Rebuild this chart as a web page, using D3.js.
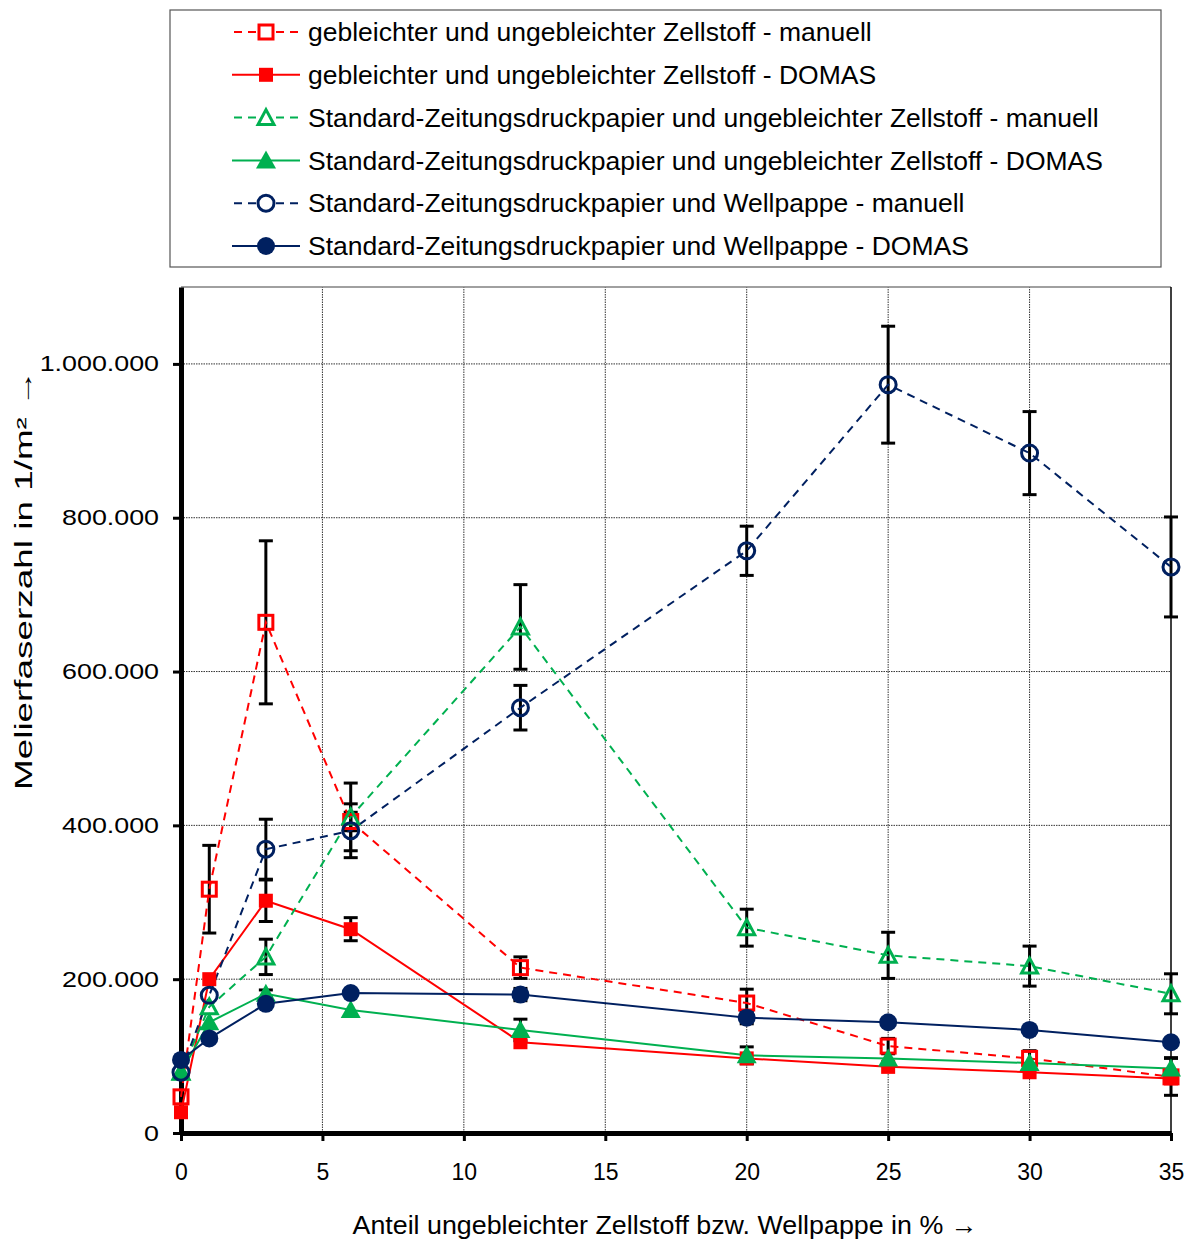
<!DOCTYPE html>
<html>
<head>
<meta charset="utf-8">
<script src="https://cdn.jsdelivr.net/npm/d3@7"></script>
<style>
  body { margin: 0; background: #fff; }
  text { font-family: Arial, "Liberation Sans", sans-serif; }
</style>
</head>
<body>
<div id="chart"></div>
<script>
const width = 1193, height = 1239;

// x positions (% share)
const xVals = [0, 1, 3, 6, 12, 20, 25, 30, 35];
const xTicks = [0, 5, 10, 15, 20, 25, 30, 35];
const yTicks = [0, 200000, 400000, 600000, 800000, 1000000];

// values
const redManual     = [47000, 317000, 664000, 405000, 215000, 169000, 113000, 97000, 73000];
const redManualErr  = [0, 57000, 106000, 12000, 14000, 18000, 10000, 10000, 24000];
const redDomas      = [27000, 200000, 302000, 265000, 118000, 97000, 86000, 79000, 71000];
const redDomasErr   = [0, 0, 27000, 15000, 0, 0, 0, 0, 0];
const greenManual    = [79000, 164000, 229000, 411000, 658000, 267000, 231000, 217000, 181000];
const greenManualErr = [0, 0, 23000, 44000, 55000, 24000, 30000, 26000, 26000];
const greenDomas     = [79000, 144000, 181000, 160000, 134000, 101000, 97000, 91000, 84000];
const greenDomasErr  = [0, 0, 5000, 0, 14000, 11000, 0, 0, 14000];
const blueManual     = [79000, 179000, 369000, 393000, 553000, 757000, 973000, 884000, 736000];
const blueManualErr  = [0, 0, 39000, 35000, 29000, 32000, 76000, 54000, 65000];
const blueDomas      = [95000, 123000, 168000, 182000, 180000, 150000, 144000, 134000, 118000];
const blueDomasErr   = [0, 0, 0, 0, 8000, 8000, 0, 0, 0];

const names = [
  "gebleichter und ungebleichter Zellstoff - manuell",
  "gebleichter und ungebleichter Zellstoff - DOMAS",
  "Standard-Zeitungsdruckpapier und ungebleichter Zellstoff - manuell",
  "Standard-Zeitungsdruckpapier und ungebleichter Zellstoff - DOMAS",
  "Standard-Zeitungsdruckpapier und Wellpappe - manuell",
  "Standard-Zeitungsdruckpapier und Wellpappe - DOMAS"
];

const series = [
  { name: names[0], values: redManual,   err: redManualErr,   color: "#ff0000", dashed: true,  shape: "square",   open: true },
  { name: names[1], values: redDomas,    err: redDomasErr,    color: "#ff0000", dashed: false, shape: "square",   open: false },
  { name: names[2], values: greenManual, err: greenManualErr, color: "#00b050", dashed: true,  shape: "triangle", open: true },
  { name: names[3], values: greenDomas,  err: greenDomasErr,  color: "#00b050", dashed: false, shape: "triangle", open: false },
  { name: names[4], values: blueManual,  err: blueManualErr,  color: "#002060", dashed: true,  shape: "circle",   open: true },
  { name: names[5], values: blueDomas,   err: blueDomasErr,   color: "#002060", dashed: false, shape: "circle",   open: false }
];

const svg = d3.select("#chart").append("svg")
    .attr("width", width)
    .attr("height", height);

const x = d3.scaleLinear().domain([0, 35]).range([181, 1171]);
const y = d3.scaleLinear().domain([0, 1100000]).range([1133, 287]);

const de = d3.formatLocale({ decimal: ",", thousands: ".", grouping: [3], currency: ["", " €"] });
const fmt = de.format(",");

// grid
const grid = svg.append("g");
grid.selectAll("line.h").data(yTicks.slice(1)).join("line")
    .attr("x1", x(0)).attr("x2", x(35))
    .attr("y1", d => y(d)).attr("y2", d => y(d))
    .attr("stroke", "#333").attr("stroke-width", 1).attr("stroke-dasharray", "1.5,1");
grid.selectAll("line.v").data(xTicks.slice(1, -1)).join("line")
    .attr("x1", d => x(d)).attr("x2", d => x(d))
    .attr("y1", y(0)).attr("y2", y(1100000))
    .attr("stroke", "#333").attr("stroke-width", 1).attr("stroke-dasharray", "1.5,1");

// plot frame (top grey, right black)
svg.append("line").attr("x1", x(0)).attr("x2", x(35)).attr("y1", y(1100000)).attr("y2", y(1100000))
    .attr("stroke", "#808080").attr("stroke-width", 1.5);
svg.append("line").attr("x1", x(35)).attr("x2", x(35)).attr("y1", y(1100000)).attr("y2", y(0))
    .attr("stroke", "#000").attr("stroke-width", 1.5);

// axes
const yAxis = svg.append("g")
    .attr("transform", `translate(${x(0)},0)`)
    .call(d3.axisLeft(y).tickValues(yTicks).tickFormat(fmt).tickSize(8).tickSizeOuter(0).tickPadding(14));
const xAxis = svg.append("g")
    .attr("transform", `translate(0,${y(0)})`)
    .call(d3.axisBottom(x).tickValues(xTicks).tickSize(8).tickSizeOuter(0).tickPadding(23));

[yAxis, xAxis].forEach(a => {
  a.select(".domain").attr("stroke-width", 5).attr("stroke", "#000");
  a.selectAll(".tick line").attr("stroke-width", 3).attr("stroke", "#000");
  a.selectAll(".tick text").attr("font-size", 22).attr("fill", "#000")
      .style("font-family", 'Arial, "Liberation Sans", sans-serif');
});
// y tick labels in the original are stretched horizontally
const ySx = 1.22;
yAxis.selectAll(".tick text")
    .attr("x", -22 / ySx)
    .attr("transform", `scale(${ySx},1)`);
xAxis.selectAll(".tick text").attr("font-size", 23);

// axis titles
svg.append("text")
    .attr("transform", `translate(32,${580}) rotate(-90)`)
    .attr("text-anchor", "middle")
    .attr("font-size", 23)
    .attr("textLength", 420)
    .attr("lengthAdjust", "spacingAndGlyphs")
    .text("Melierfaserzahl in 1/m² →");
svg.append("text")
    .attr("x", 665).attr("y", 1234)
    .attr("text-anchor", "middle")
    .attr("font-size", 26)
    .attr("textLength", 625)
    .attr("lengthAdjust", "spacingAndGlyphs")
    .text("Anteil ungebleichter Zellstoff bzw. Wellpappe in % →");

// marker drawing
function drawMarker(sel, s) {
  const sw = s.open ? 3 : 0;
  const fill = s.open ? "none" : s.color;
  if (s.shape === "square") {
    sel.append("rect").attr("x", -7).attr("y", -7).attr("width", 14).attr("height", 14)
        .attr("fill", fill).attr("stroke", s.color).attr("stroke-width", sw);
  } else if (s.shape === "circle") {
    sel.append("circle").attr("r", s.open ? 8 : 9)
        .attr("fill", fill).attr("stroke", s.color).attr("stroke-width", sw);
  } else {
    sel.append("path").attr("d", s.open ? "M0,-8L8,7L-8,7Z" : "M0,-10L10,8L-10,8Z")
        .attr("fill", fill).attr("stroke", s.color).attr("stroke-width", sw)
        .attr("stroke-linejoin", "miter");
  }
}

// error bars
const errG = svg.append("g");
series.forEach(s => {
  s.values.forEach((v, i) => {
    const e = s.err[i];
    if (!e) return;
    const cx = x(xVals[i]);
    const g = errG.append("g").attr("stroke", "#000").attr("stroke-width", 3);
    g.append("line").attr("x1", cx).attr("x2", cx).attr("y1", y(v + e)).attr("y2", y(v - e));
    g.append("line").attr("x1", cx - 7).attr("x2", cx + 7).attr("y1", y(v + e)).attr("y2", y(v + e));
    g.append("line").attr("x1", cx - 7).attr("x2", cx + 7).attr("y1", y(v - e)).attr("y2", y(v - e));
  });
});

// lines
const line = d3.line().x((d, i) => x(xVals[i])).y(d => y(d));
series.forEach(s => {
  svg.append("path")
      .attr("d", line(s.values))
      .attr("fill", "none")
      .attr("stroke", s.color)
      .attr("stroke-width", 2)
      .attr("stroke-dasharray", s.dashed ? "8,6" : null);
});

// markers
series.forEach(s => {
  s.values.forEach((v, i) => {
    const m = svg.append("g").attr("transform", `translate(${x(xVals[i])},${y(v)})`);
    drawMarker(m, s);
  });
});

// legend
const legend = svg.append("g");
legend.append("rect")
    .attr("x", 170).attr("y", 10).attr("width", 991).attr("height", 257)
    .attr("fill", "#fff").attr("stroke", "#555").attr("stroke-width", 1.2);
series.forEach((s, i) => {
  const ly = 32 + i * 42.8;
  const item = legend.append("g").attr("transform", `translate(0,${ly})`);
  item.append("line").attr("x1", 232).attr("x2", 300).attr("y1", 0).attr("y2", 0)
      .attr("stroke", s.color).attr("stroke-width", 2)
      .attr("stroke-dasharray", s.dashed ? "8,6" : null)
      .attr("stroke-dashoffset", s.dashed ? -2 : 0);
  const m = item.append("g").attr("transform", "translate(266,0)");
  if (s.open) m.append("rect").attr("x", -9).attr("y", -9).attr("width", 18).attr("height", 18).attr("fill", "#fff");
  drawMarker(m, s);
  item.append("text").attr("x", 308).attr("y", 0).attr("dy", "0.35em")
      .attr("font-size", 26.5).text(s.name);
});
</script>
</body>
</html>
